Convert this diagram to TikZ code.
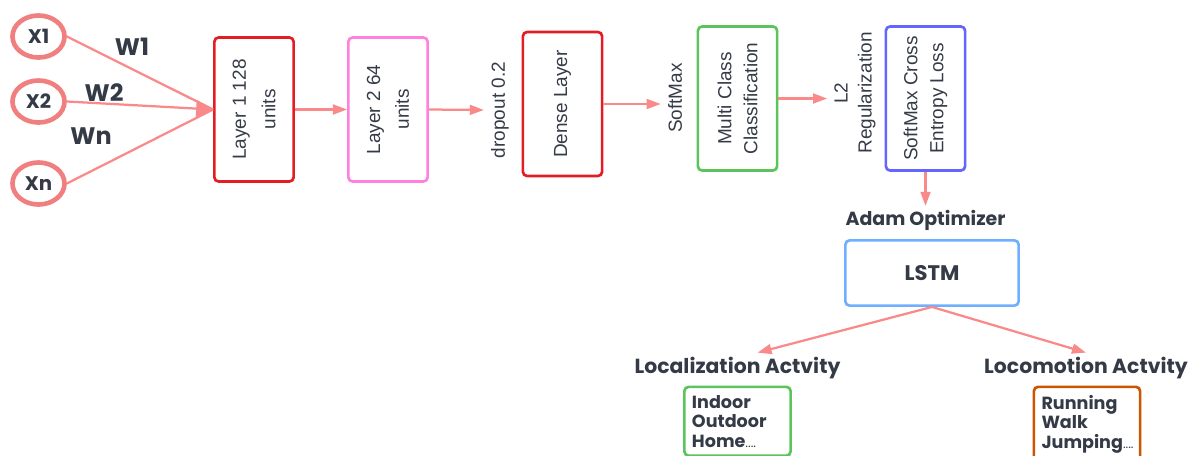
\documentclass[tikz,border=0pt]{standalone}
\usepackage{fontspec}
\setmainfont{Liberation Sans}
\newfontfamily\headfont{Poppins}
\usepackage{xcolor}
\usetikzlibrary{arrows.meta,shapes.geometric}

\definecolor{inkgray}{RGB}{52,58,70}
\definecolor{linkred}{RGB}{250,138,138}
\definecolor{ringred}{RGB}{240,128,128}
\definecolor{layerred}{RGB}{226,30,36}
\definecolor{layerpink}{RGB}{255,128,222}
\definecolor{classgreen}{RGB}{92,196,92}
\definecolor{lossblue}{RGB}{100,100,255}
\definecolor{lstmblue}{RGB}{110,175,255}
\definecolor{motionorange}{RGB}{204,85,0}

\begin{document}
\begin{tikzpicture}[
		x=0.025cm, y=-0.025cm,
		every node/.style={text=inkgray, inner sep=3pt},
		inputnode/.style={
			draw=ringred,
			ellipse,
			line width=3.3pt,
			minimum width=1.3cm,
			minimum height=1.05cm,
			inner sep=0pt,
			font=\headfont\bfseries\fontsize{14}{16}\selectfont
		},
		weightlabel/.style={font=\headfont\bfseries\fontsize{17}{19}\selectfont},
		stagebox/.style={
			draw,
			rounded corners=3pt,
			line width=1.9pt,
			rotate=90,
			minimum width=3.6cm,
			minimum height=1.98cm,
			align=center,
			font=\fontsize{13.5}{18.5}\selectfont
		},
		sidetext/.style={rotate=90, align=center, inner sep=5pt, font=\fontsize{13.5}{17}\selectfont},
		headtext/.style={font=\headfont\bfseries\fontsize{13.5}{15}\selectfont},
		lstmbox/.style={
			draw=lstmblue,
			rounded corners=3pt,
			line width=1.9pt,
			minimum width=4.33cm,
			minimum height=1.63cm,
			font=\headfont\bfseries\fontsize{15}{17}\selectfont
		},
		outbox/.style={
			draw,
			rounded corners=3pt,
			line width=1.9pt,
			anchor=north,
			align=left,
			text width=2.275cm,
			inner xsep=0.19cm,
			inner ysep=6pt,
			font=\headfont\bfseries\fontsize{12.5}{13.8}\selectfont
		},
		feed/.style={draw=linkred, line width=1.6pt},
		link/.style={feed, -{Triangle[length=10pt,width=7pt]}}
		]
		\useasboundingbox (0,0) rectangle (1196,455);
		
		% Input neurons
		\node[inputnode] (x1) at (38.5,36.5) {X1};
		\node[inputnode] (x2) at (38.5,101.5) {X2};
		\node[inputnode] (xn) at (38.5,183.5) {Xn};
		
		% Weight labels
		\node[weightlabel] (w1) at (132,46.5) {W1};
		\node[weightlabel] (w2) at (104,92.5) {W2};
		\node[weightlabel] (wn) at (91,136.5) {Wn};
		
		% Network stages (rotated boxes and side notes)
		\node[stagebox, draw=layerred, font=\fontsize{13.5}{21}\selectfont] (l1) at (254,109.5) {Layer 1 128\\units};
		\node[stagebox, draw=layerpink, font=\fontsize{13.5}{20.5}\selectfont] (l2) at (388,109.5) {Layer 2 64\\units};
		\node[sidetext] (drop) at (500,110) {dropout 0.2};
		\node[stagebox, draw=layerred] (dense) at (562.5,104) {Dense Layer};
		\node[sidetext] (soft) at (675,98) {SoftMax};
		\node[stagebox, draw=classgreen] (multi) at (737.5,98.5) {Multi Class\\Classification};
		\node[sidetext] (reg) at (855,93) {L2\\Regularization};
		\node[stagebox, draw=lossblue] (loss) at (925.5,98.5) {SoftMax Cross\\Entropy Loss};
		
		% Optimizer and LSTM
		\node[headtext] (adam) at (925.5,220.5) {Adam Optimizer};
		\node[lstmbox] (lstm) at (932,273) {LSTM};
		
		% Activity outputs
		\node[headtext, font=\headfont\bfseries\fontsize{14.5}{16}\selectfont] (locl) at (737.5,368) {Localization Actvity};
		\node[headtext, font=\headfont\bfseries\fontsize{14.5}{16}\selectfont] (locm) at (1086,368) {Locomotion Actvity};
		\node[outbox, draw=classgreen] (indoor) at (737.5,385.5) {Indoor\\Outdoor\\Home{\mdseries\fontsize{9}{10}\selectfont....}};
		\node[outbox, draw=motionorange] (run) at (1087,385.5) {Running\\Walk\\Jumping{\mdseries\fontsize{9}{10}\selectfont....}};
		
		% Inputs into the first layer
		\draw[feed] (x1.east) -- (l1.north);
		\draw[feed, -{Triangle[length=12pt,width=12pt]}] (x2.east) -- (l1.north);
		\draw[feed] (xn.east) -- (l1.north);
		
		% Forward flow
		\draw[link] (l1.south) -- (l2.north);
		\draw[link] (l2.south) -- (drop.north);
		\draw[link] (dense.south) -- (dense.south -| soft.north);
		\draw[link] (multi.south) -- (multi.south -| reg.north);
		\draw[link] (loss.west) -- (adam.north);
		
		% LSTM to activities
		\draw[link] (lstm.south) -- ([xshift=0.5cm]locl.north);
		\draw[link] (lstm.south) -- (locm.north);
		
	\end{tikzpicture}
\end{document}
